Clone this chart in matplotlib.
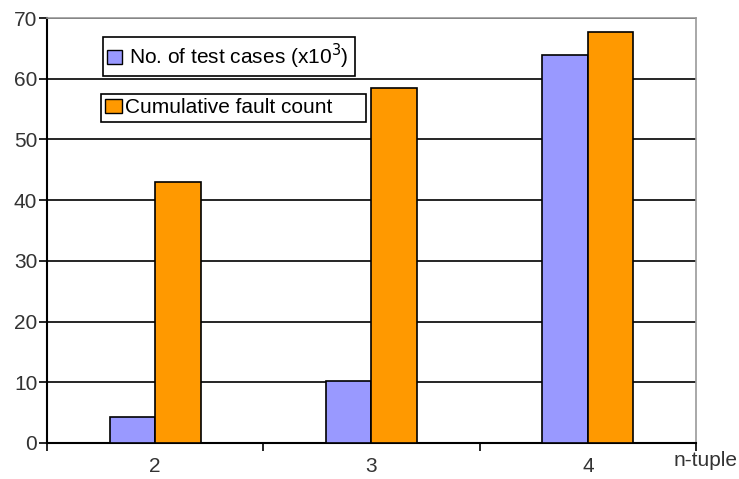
import numpy as np
import matplotlib.pyplot as plt
from matplotlib.patches import Patch

plt.rcParams['font.family'] = ['Liberation Sans', 'DejaVu Sans']

categories = ['2', '3', '4']
test_cases = [4.2, 10.2, 63.9]      # x10^3
fault_count = [43.0, 58.5, 67.7]

blue = '#9999ff'
orange = '#ff9900'
fs = 15

fig = plt.figure(figsize=(7.39, 4.79), dpi=100)
ax = fig.add_axes([0.0636, 0.0752, 0.8782, 0.8872])

x = np.arange(len(categories))
w = 0.21
ax.bar(x - w / 2, test_cases, w, color=blue, edgecolor='black', linewidth=1.2, zorder=3)
ax.bar(x + w / 2, fault_count, w, color=orange, edgecolor='black', linewidth=1.2, zorder=3)

ax.set_xlim(-0.5, len(categories) - 0.5)
ax.set_ylim(0, 70)
ax.set_yticks(range(0, 71, 10))
ax.set_xticks(x)
ax.set_xticklabels(categories)
ax.set_xticks(np.arange(-0.5, len(categories), 1), minor=True)

ax.yaxis.grid(True, color='black', linewidth=1.2, zorder=0)
ax.set_axisbelow(True)

ax.tick_params(axis='x', which='major', length=0, pad=10, labelsize=fs, labelcolor='#333333')
ax.tick_params(axis='x', which='minor', length=6, width=1.2, direction='out')
ax.tick_params(axis='y', length=6, width=1.2, direction='out', labelsize=fs,
               labelcolor='#333333', pad=1)

for s in ['left', 'bottom']:
    ax.spines[s].set_linewidth(1.5)
for s in ['top', 'right']:
    ax.spines[s].set_color('#999999')
    ax.spines[s].set_linewidth(1.2)

fig.text(0.998, 0.028, 'n-tuple', fontsize=fs, color='#333333', ha='right', va='baseline')

leg1 = ax.legend(handles=[Patch(facecolor=blue, edgecolor='black', label='No. of test cases (x10$^3$) ')],
                 loc='upper left', bbox_to_anchor=(0.086, 0.955), fancybox=False,
                 edgecolor='black', framealpha=1, fontsize=fs, handlelength=0.7,
                 handleheight=0.7, handletextpad=0.35, borderpad=0.22, borderaxespad=0)
leg1.get_frame().set_linewidth(1.2)
ax.add_artist(leg1)
leg2 = ax.legend(handles=[Patch(facecolor=orange, edgecolor='black', label='Cumulative fault count     ')],
                 loc='upper left', bbox_to_anchor=(0.083, 0.822), fancybox=False,
                 edgecolor='black', framealpha=1, fontsize=fs, handlelength=0.8,
                 handleheight=0.7, handletextpad=0.15, borderpad=0.22, borderaxespad=0)
leg2.get_frame().set_linewidth(1.2)

fig.savefig('out.png', dpi=100)
